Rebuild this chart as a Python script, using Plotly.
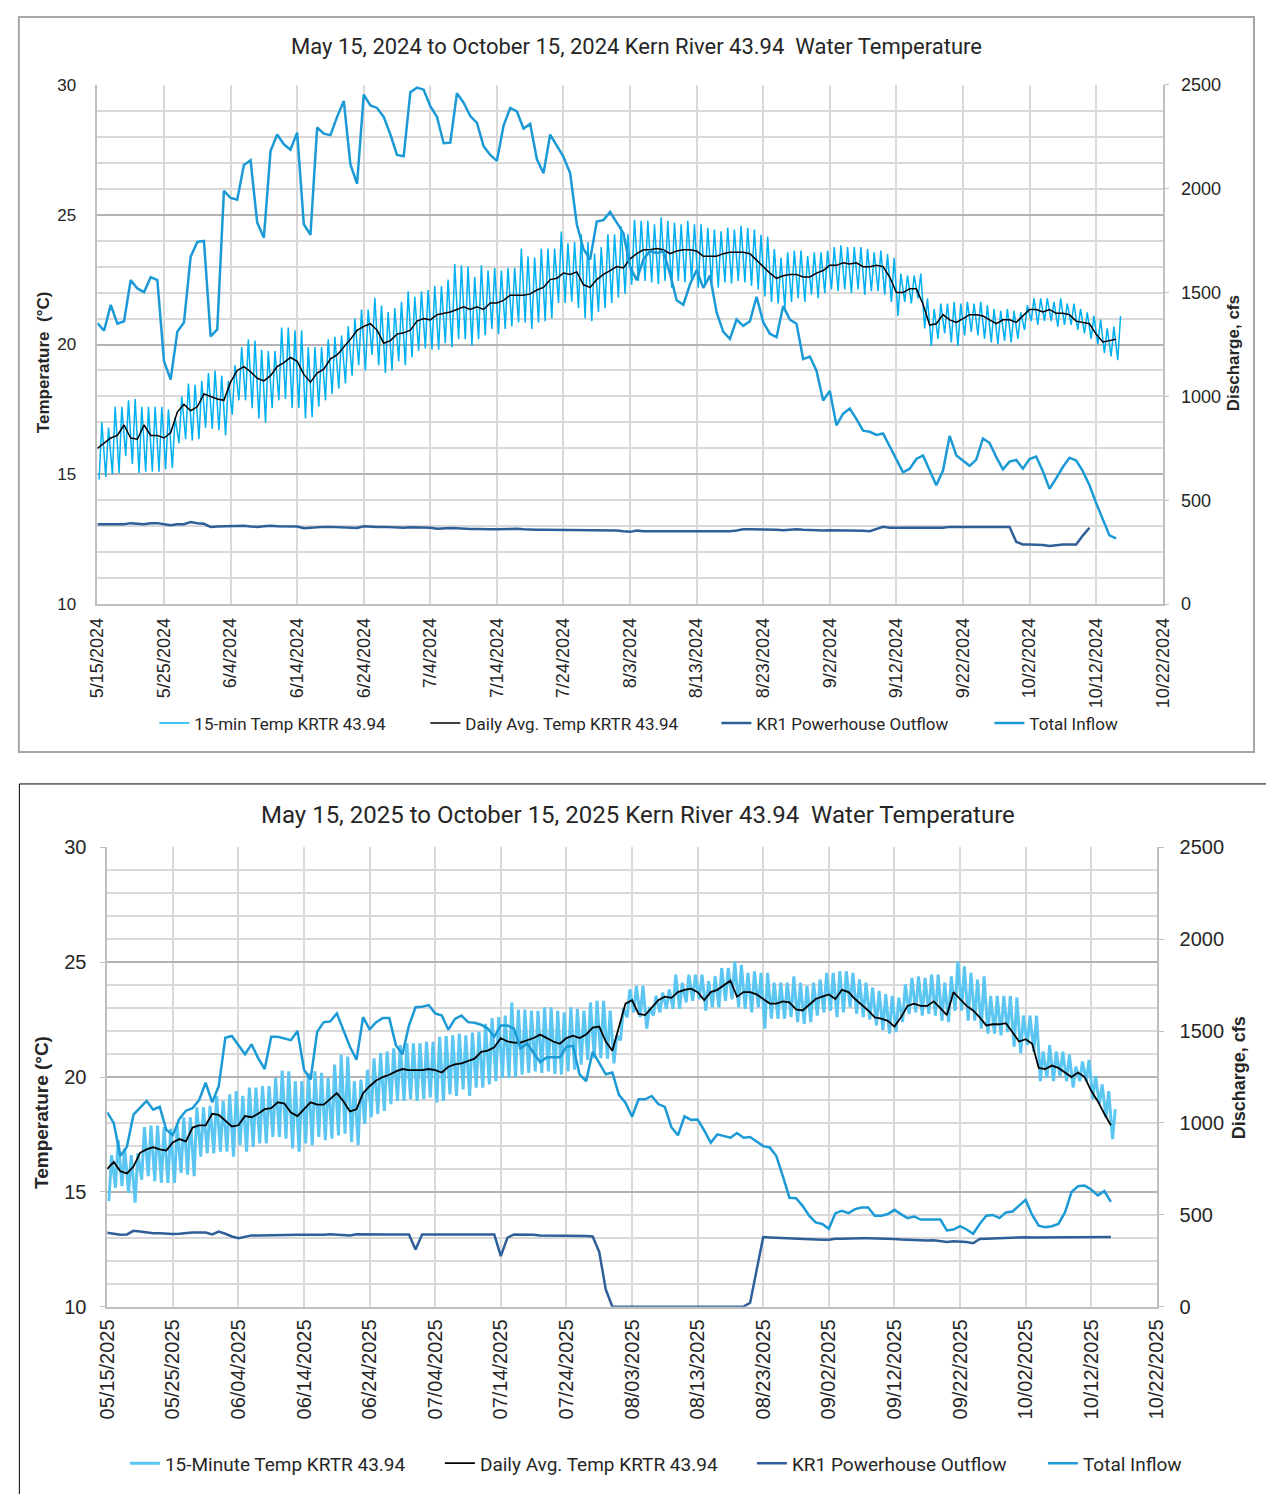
import pandas as pd
import plotly.graph_objects as go

W, H = 1266, 1494

# ---------------- 2024 data (daily, starting 2024-05-15) ----------------
start_2024 = "2024-05-15"
avg_2024 = [16.0, 16.2, 16.4, 16.5, 16.9, 16.4, 16.35, 16.9, 16.5, 16.5,
            16.4, 16.6, 17.4, 17.7, 17.45, 17.6, 18.1, 18.0, 17.9, 17.85,
            18.55, 19.0, 19.15, 18.95, 18.7, 18.6, 18.8, 19.15, 19.3, 19.5,
            19.35, 18.85, 18.55, 18.9, 19.05, 19.45, 19.6, 19.9, 20.2, 20.55,
            20.7, 20.8, 20.55, 20.05, 20.15, 20.4, 20.45, 20.55, 20.9, 21.0,
            20.95, 21.15, 21.2, 21.25, 21.35, 21.45, 21.35, 21.45, 21.35, 21.6,
            21.6, 21.7, 21.9, 21.9, 21.9, 21.95, 22.1, 22.2, 22.5, 22.55,
            22.75, 22.7, 22.8, 22.3, 22.2, 22.5, 22.7, 22.85, 23.0, 22.95,
            23.3, 23.5, 23.65, 23.65, 23.7, 23.65, 23.5, 23.6, 23.65, 23.65,
            23.6, 23.4, 23.4, 23.4, 23.5, 23.55, 23.55, 23.55, 23.5, 23.25,
            23.0, 22.75, 22.55, 22.65, 22.7, 22.7, 22.6, 22.6, 22.75, 22.85,
            23.05, 23.05, 23.15, 23.1, 23.15, 23.0, 23.0, 23.05, 23.0, 22.6,
            22.0, 22.0, 22.15, 22.15, 21.55, 20.75, 20.8, 21.15, 20.95, 20.85,
            21.0, 21.15, 21.15, 21.1, 20.95, 20.8, 20.95, 20.95, 20.85, 21.1,
            21.35, 21.35, 21.25, 21.35, 21.2, 21.2, 21.15, 20.9, 20.85, 20.8,
            20.4, 20.1, 20.15, 20.2]
max_2024 = [17.0, 16.8, 17.6, 17.6, 17.85, 17.9, 17.6, 17.6, 17.6, 17.6,
            17.5, 17.2, 18.0, 18.5, 18.45, 18.6, 18.9, 19.0, 18.8, 18.6,
            19.2, 19.9, 20.2, 20.15, 19.8, 19.75, 19.75, 20.65, 20.65, 20.55,
            20.55, 19.9, 19.9, 19.9, 20.2, 20.3, 20.35, 20.7, 21.0, 21.35,
            21.35, 21.8, 21.5, 21.25, 21.4, 21.65, 22.05, 21.85, 22.05, 22.1,
            22.25, 22.25, 22.5, 23.1, 23.05, 23.0, 22.6, 23.05, 22.85, 22.95,
            22.85, 22.95, 22.95, 23.7, 23.4, 23.35, 23.7, 23.7, 23.7, 24.35,
            23.9, 23.95, 24.25, 23.95, 23.5, 23.75, 24.25, 24.25, 24.55, 24.25,
            24.8, 24.77, 24.77, 24.63, 24.9, 24.77, 24.7, 24.63, 24.77, 24.63,
            24.63, 24.5, 24.43, 24.36, 24.5, 24.43, 24.57, 24.5, 24.43, 24.23,
            24.16, 23.68, 23.34, 23.55, 23.62, 23.62, 23.41, 23.55, 23.55, 23.62,
            23.75, 23.82, 23.75, 23.75, 23.75, 23.68, 23.55, 23.62, 23.48, 23.34,
            22.73, 22.66, 22.66, 22.73, 21.78, 21.37, 21.58, 21.58, 21.64, 21.58,
            21.64, 21.58, 21.64, 21.51, 21.37, 21.3, 21.37, 21.3, 21.24, 21.51,
            21.78, 21.78, 21.78, 21.64, 21.78, 21.58, 21.58, 21.37, 21.24, 21.1,
            20.96, 20.62, 20.69, 21.1]
min_2024 = [14.8, 14.9, 15.0, 15.05, 15.7, 15.4, 15.05, 15.1, 15.1, 15.1,
            15.2, 15.25, 16.2, 16.35, 16.3, 16.35, 16.8, 16.75, 16.7, 16.5,
            17.3, 17.85, 17.85, 17.55, 17.15, 17.0, 17.55, 17.85, 17.9, 17.55,
            17.55, 17.15, 17.2, 17.6, 17.85, 18.1, 18.3, 18.5, 18.8, 19.2,
            19.0, 19.6, 19.2, 18.9, 19.0, 19.35, 19.2, 19.5, 19.75, 19.85,
            19.8, 19.8, 20.05, 19.9, 20.2, 20.2, 19.95, 20.2, 20.35, 20.6,
            20.4, 20.6, 20.7, 20.85, 20.85, 20.6, 20.85, 20.9, 21.0, 21.6,
            21.6, 21.65, 21.4, 21.0, 20.9, 21.25, 21.4, 21.6, 21.8, 21.95,
            22.3, 22.45, 22.45, 22.39, 22.32, 22.45, 22.19, 22.45, 22.39, 22.45,
            22.19, 22.26, 22.32, 22.19, 22.39, 22.35, 22.45, 22.39, 22.26, 22.12,
            21.85, 21.64, 21.58, 21.4, 21.64, 21.78, 21.64, 21.92, 21.78, 21.98,
            22.12, 22.05, 22.12, 21.98, 22.12, 21.92, 22.05, 22.05, 21.92, 21.64,
            21.1, 21.64, 21.58, 21.78, 20.62, 19.95, 20.22, 20.43, 20.08, 19.95,
            20.35, 20.49, 20.35, 20.22, 20.08, 20.01, 20.15, 20.08, 20.22, 20.56,
            20.9, 20.76, 20.9, 20.9, 20.69, 20.76, 20.76, 20.56, 20.43, 20.22,
            20.01, 19.67, 19.54, 19.4]
inflow_2024 = [1353, 1316, 1441, 1350, 1362, 1560, 1520, 1502, 1574, 1560,
               1170, 1081, 1311, 1356, 1672, 1744, 1749, 1289, 1323, 1990,
               1956, 1947, 2114, 2137, 1837, 1764, 2182, 2261, 2214, 2188,
               2270, 1829, 1778, 2295, 2265, 2258, 2346, 2423, 2117, 2024,
               2453, 2401, 2389, 2346, 2261, 2163, 2156, 2465, 2487, 2477,
               2397, 2346, 2219, 2222, 2460, 2414, 2350, 2317, 2205, 2163,
               2134, 2304, 2389, 2372, 2290, 2312, 2143, 2075, 2261, 2210,
               2154, 2075, 1829, 1710, 1659, 1842, 1849, 1888, 1840, 1786,
               1625, 1560, 1660, 1700, 1690, 1700, 1591, 1463, 1441, 1540,
               1608, 1523, 1582, 1404, 1311, 1277, 1370, 1340, 1362, 1480,
               1357, 1302, 1285, 1435, 1370, 1350, 1180, 1192, 1124, 980,
               1027, 861, 917, 942, 891, 835, 830, 815, 822, 762,
               699, 635, 652, 699, 716, 640, 572, 643, 810, 716,
               691, 666, 696, 798, 776, 708, 649, 686, 694, 652,
               699, 711, 640, 555, 606, 660, 705, 691, 640, 572,
               487, 406, 331, 317]
outflow_2024 = [385, 385, 382, 382, 385, 390, 387, 385, 389, 390,
                385, 380, 385, 385, 395, 389, 387, 372, 374, 375,
                375, 375, 377, 374, 372, 375, 377, 375, 375, 375,
                374, 365, 368, 372, 372, 372, 370, 368, 368, 367,
                375, 372, 372, 372, 370, 367, 368, 370, 370, 370,
                368, 363, 365, 367, 365, 362, 362, 362, 360, 360,
                360, 362, 362, 363, 360, 358, 358, 358, 358, 358,
                358, 358, 358, 355, 355, 355, 355, 355, 355, 351,
                348, 355, 351, 351, 351, 351, 351, 348, 348, 348,
                350, 351, 350, 348, 350, 351, 355, 360, 360, 360,
                360, 360, 358, 356, 358, 360, 358, 356, 355, 355,
                356, 356, 356, 356, 356, 353, 351, 360, 372, 368,
                368, 368, 368, 368, 368, 368, 368, 368, 372, 372,
                372, 373, 374, 375, 373, 372, 372, 372, 300, 287,
                287, 287, 285, 280, 284, 287, 287, 287, 330, 368]

# ---------------- 2025 data (daily, starting 2025-05-15) ----------------
start_2025 = "2025-05-15"
avg_2025 = [16.0, 16.3, 15.9, 15.8, 16.1, 16.7, 16.85, 16.95, 16.85, 16.8,
            17.15, 17.3, 17.2, 17.8, 17.9, 17.9, 18.4, 18.35, 18.1, 17.85,
            17.9, 18.3, 18.25, 18.4, 18.6, 18.65, 18.9, 18.85, 18.45, 18.3,
            18.6, 18.9, 18.8, 18.8, 19.05, 19.3, 18.95, 18.5, 18.6, 19.3,
            19.6, 19.85, 20.0, 20.1, 20.25, 20.35, 20.3, 20.3, 20.3, 20.35,
            20.3, 20.2, 20.45, 20.55, 20.6, 20.7, 20.8, 21.1, 21.15, 21.3,
            21.7, 21.55, 21.5, 21.5, 21.6, 21.7, 21.85, 21.7, 21.55, 21.45,
            21.7, 21.8, 21.7, 21.85, 22.15, 22.2, 21.55, 21.15, 22.2, 23.2,
            23.35, 22.75, 22.7, 23.05, 23.35, 23.5, 23.45, 23.7, 23.8, 23.85,
            23.7, 23.35, 23.7, 23.8, 24.0, 24.2, 23.5, 23.7, 23.7, 23.6,
            23.4, 23.2, 23.2, 23.3, 23.25, 22.95, 22.9, 23.15, 23.4, 23.5,
            23.6, 23.4, 23.8, 23.7, 23.4, 23.15, 22.9, 22.6, 22.55, 22.45,
            22.2, 22.6, 23.1, 23.2, 23.1, 23.1, 23.3, 23.0, 22.7, 23.7,
            23.4, 23.1, 22.9, 22.6, 22.25, 22.3, 22.3, 22.35, 21.95, 21.55,
            21.65, 21.45, 20.4, 20.35, 20.5, 20.4, 20.2, 20.0, 20.2, 20.0,
            19.4, 18.95, 18.4, 17.9]
max_2025 = [16.6, 17.25, 16.9, 16.6, 16.68, 17.82, 17.89, 17.89, 17.82, 17.75,
            17.89, 18.25, 18.25, 18.68, 18.68, 18.75, 19.18, 18.96, 19.25, 19.39,
            19.18, 19.54, 19.54, 19.61, 19.61, 19.96, 20.28, 20.25, 19.82, 19.82,
            20.18, 20.25, 20.18, 19.96, 20.54, 20.97, 20.89, 19.82, 19.89, 20.32,
            20.82, 21.04, 21.11, 21.25, 21.39, 21.47, 21.47, 21.47, 21.54, 21.54,
            21.75, 21.79, 21.82, 21.89, 21.82, 21.94, 21.97, 22.32, 22.57, 22.61,
            22.68, 23.25, 22.94, 22.94, 22.89, 22.89, 23.04, 23.04, 22.89, 22.82,
            23.04, 22.97, 22.89, 23.25, 23.32, 23.32, 22.9, 21.8, 23.0, 23.82,
            23.97, 23.97, 23.04, 23.54, 23.68, 23.82, 24.46, 24.11, 24.46, 24.46,
            24.46, 24.18, 24.39, 24.75, 24.75, 25.04, 24.89, 24.54, 24.61, 24.54,
            24.54, 24.11, 24.11, 24.11, 24.39, 24.11, 23.97, 24.11, 24.25, 24.54,
            24.54, 24.61, 24.61, 24.54, 24.25, 24.11, 23.9, 23.75, 23.61, 23.54,
            23.46, 24.04, 24.32, 24.39, 24.32, 24.46, 24.46, 24.11, 24.39, 25.04,
            24.82, 24.54, 24.25, 24.39, 23.54, 23.54, 23.54, 23.54, 23.46, 22.68,
            22.68, 22.68, 21.11, 21.39, 21.11, 21.11, 20.97, 20.46, 20.68, 20.75,
            20.04, 19.68, 19.39, 18.6]
min_2025 = [14.6, 15.18, 15.25, 14.96, 14.53, 15.53, 15.68, 15.46, 15.39, 15.39,
            15.39, 15.82, 15.75, 15.68, 16.53, 16.68, 16.68, 16.75, 16.75, 16.53,
            17.03, 16.75, 16.96, 17.11, 17.11, 17.39, 17.39, 17.32, 16.89, 16.75,
            17.11, 17.03, 17.39, 17.25, 17.32, 17.46, 17.53, 17.18, 17.03, 17.96,
            18.25, 18.39, 18.53, 18.82, 18.96, 18.96, 19.04, 18.96, 19.04, 19.11,
            18.89, 18.96, 19.25, 19.18, 19.46, 19.18, 19.54, 19.54, 19.68, 19.82,
            19.96, 19.96, 19.99, 20.11, 20.18, 20.25, 20.18, 20.25, 20.14, 20.11,
            20.25, 20.32, 20.54, 20.75, 20.82, 20.82, 20.8, 20.6, 21.6, 22.6,
            22.82, 22.61, 22.11, 22.68, 22.82, 22.97, 22.97, 22.97, 23.25, 23.32,
            23.39, 22.89, 23.04, 23.04, 23.32, 23.39, 23.04, 22.97, 22.82, 23.04,
            22.11, 22.54, 22.54, 22.54, 22.61, 22.39, 22.32, 22.39, 22.68, 22.82,
            22.89, 22.61, 22.82, 23.04, 22.75, 22.61, 22.5, 22.25, 22.04, 21.89,
            21.96, 22.4, 22.75, 22.82, 22.68, 22.75, 22.68, 22.46, 22.39, 22.89,
            22.89, 22.46, 22.46, 22.11, 21.89, 21.89, 21.82, 21.96, 21.32, 21.04,
            21.39, 21.11, 19.82, 19.96, 19.82, 20.04, 19.82, 19.54, 19.82, 19.82,
            19.04, 18.82, 18.25, 17.3]
inflow_2025 = [1058, 999, 820, 870, 1045, 1085, 1120, 1072, 1088, 963,
               933, 1022, 1067, 1081, 1124, 1219, 1112, 1201, 1464, 1474,
               1424, 1374, 1428, 1353, 1294, 1469, 1469, 1460, 1451, 1501,
               1290, 1237, 1496, 1549, 1553, 1597, 1505, 1415, 1344, 1576,
               1510, 1549, 1571, 1571, 1424, 1374, 1531, 1630, 1633, 1642,
               1597, 1585, 1508, 1567, 1585, 1549, 1546, 1535, 1514, 1469,
               1531, 1531, 1514, 1406, 1433, 1380, 1331, 1358, 1358, 1358,
               1415, 1420, 1265, 1228, 1388, 1325, 1265, 1275, 1153, 1110,
               1034, 1129, 1129, 1147, 1103, 1088, 977, 933, 1036, 1017,
               1019, 960, 892, 938, 927, 920, 945, 920, 924, 897,
               874, 867, 820, 709, 593, 590, 549, 495, 459, 450,
               424, 509, 522, 509, 531, 540, 540, 495, 495, 504,
               527, 504, 482, 491, 474, 474, 474, 474, 415, 420,
               438, 420, 397, 450, 495, 499, 482, 513, 518, 549,
               581, 499, 441, 432, 438, 450, 513, 624, 656, 659,
               638, 606, 629, 570]
outflow_2025 = [402, 397, 391, 393, 413, 409, 404, 400, 400, 397,
                395, 397, 402, 404, 404, 404, 393, 409, 397, 382,
                373, 382, 388, 388, 389, 391, 391, 391, 391, 391,
                391, 391, 388, 391, 394, 391, 388, 388, 394, 393,
                393, 393, 393, 393, 393, 393, 393, 311, 393, 393,
                393, 393, 393, 393, 393, 393, 393, 393, 393, 393,
                275, 375, 393, 393, 393, 391, 388, 388, 388, 388,
                388, 385, 385, 385, 382, 298, 93, 0, 0, 0,
                0, 0, 0, 0, 0, 0, 0, 0, 0, 0,
                0, 0, 0, 0, 0, 0, 0, 0, 21, 200,
                379, 377, 375, 373, 372, 370, 368, 366, 364, 364,
                364, 370, 370, 372, 372, 373, 372, 372, 370, 370,
                368, 366, 364, 362, 360, 360, 362, 358, 352, 356,
                356, 352, 345, 368, 370, 372, 372, 374, 375, 376,
                378, 376, 376, 376, 378, 378, 379, 379, 379, 379,
                379, 379, 379, 379]

legend_2024 = ["15-min Temp KRTR 43.94", "Daily Avg. Temp KRTR 43.94",
               "KR1 Powerhouse Outflow", "Total Inflow"]
legend_2025 = ["15-Minute Temp KRTR 43.94", "Daily Avg. Temp KRTR 43.94",
               "KR1 Powerhouse Outflow", "Total Inflow"]
title_2024 = "May 15, 2024 to October 15, 2024 Kern River 43.94  Water Temperature"
title_2025 = "May 15, 2025 to October 15, 2025 Kern River 43.94  Water Temperature"


def days(start, n):
    return pd.date_range(start, periods=n, freq="D")


def diurnal(start, lo, hi):
    xs, ys = [], []
    for d, a, b in zip(days(start, len(lo)), lo, hi):
        xs += [d + pd.Timedelta(hours=6), d + pd.Timedelta(hours=16)]
        ys += [a, b]
    return xs, ys


def px(x):
    return x / W


def py(y):
    return 1 - y / H


C15_TOP = "#00B0F0"
C15_BOT = "#5CC6F2"
CAVG = "#000000"
COUT = "#2F5F98"
CIN = "#1C9AD6"
MAJ = "#B3B3B3"
MIN = "#D9D9D9"
AX = "#BFBFBF"
TXT = "#262626"

fig = go.Figure()

# ---- top chart ----
x15, y15 = diurnal(start_2024, min_2024, max_2024)
fig.add_trace(go.Scatter(x=x15, y=y15, mode="lines", name=legend_2024[0],
                         line=dict(color=C15_TOP, width=1.5),
                         xaxis="x", yaxis="y", legend="legend", legendwidth=226))
fig.add_trace(go.Scatter(x=days(start_2024, len(avg_2024)), y=avg_2024, mode="lines",
                         name=legend_2024[1], line=dict(color=CAVG, width=1.5),
                         xaxis="x", yaxis="y", legend="legend", legendwidth=246))
fig.add_trace(go.Scatter(x=days(start_2024, len(outflow_2024)), y=outflow_2024, mode="lines",
                         name=legend_2024[2], line=dict(color=COUT, width=2.5),
                         xaxis="x", yaxis="y2", legend="legend", legendwidth=228))
fig.add_trace(go.Scatter(x=days(start_2024, len(inflow_2024)), y=inflow_2024, mode="lines",
                         name=legend_2024[3], line=dict(color=CIN, width=2.5),
                         xaxis="x", yaxis="y2", legend="legend", legendwidth=100))

# ---- bottom chart ----
x15b, y15b = diurnal(start_2025, min_2025, max_2025)
fig.add_trace(go.Scatter(x=x15b, y=y15b, mode="lines", name=legend_2025[0],
                         line=dict(color=C15_BOT, width=3),
                         xaxis="x2", yaxis="y3", legend="legend2", legendwidth=270))
fig.add_trace(go.Scatter(x=days(start_2025, len(avg_2025)), y=avg_2025, mode="lines",
                         name=legend_2025[1], line=dict(color=CAVG, width=1.8),
                         xaxis="x2", yaxis="y3", legend="legend2", legendwidth=267))
fig.add_trace(go.Scatter(x=days(start_2025, len(outflow_2025)), y=outflow_2025, mode="lines",
                         name=legend_2025[2], line=dict(color=COUT, width=2.5),
                         xaxis="x2", yaxis="y4", legend="legend2", legendwidth=246))
fig.add_trace(go.Scatter(x=days(start_2025, len(inflow_2025)), y=inflow_2025, mode="lines",
                         name=legend_2025[3], line=dict(color=CIN, width=2.5),
                         xaxis="x2", yaxis="y4", legend="legend2", legendwidth=110))

TEN_DAYS = 10 * 86400000
FT = "Liberation Sans"


def ann(text, x, y, size, angle=0, family="Roboto"):
    return dict(text=text, xref="paper", yref="paper", x=px(x), y=py(y),
                xanchor="center", yanchor="middle", textangle=angle, showarrow=False,
                font=dict(family=family, size=size, color=TXT))


fig.update_layout(
    width=W, height=H, margin=dict(l=0, r=0, t=0, b=0),
    paper_bgcolor="white", plot_bgcolor="white",
    font=dict(family="Roboto", color=TXT),
    xaxis=dict(domain=[px(87), px(1172)], anchor="y", type="date",
               range=["2024-05-15", "2024-10-22"], tick0="2024-05-15", dtick=TEN_DAYS,
               tickformat="%-m/%-d/%Y", tickangle=-90,
               tickfont=dict(family=FT, size=18, color=TXT),
               showgrid=True, gridcolor=MIN, gridwidth=1.5,
               showline=True, linecolor=AX, linewidth=1.5, ticks="",
               ticklabelstandoff=5, zeroline=False),
    yaxis=dict(domain=[py(602), py(75)], anchor="x", range=[10, 30], tick0=10, dtick=5,
               showgrid=True, gridcolor=MAJ, gridwidth=2,
               minor=dict(tick0=10, dtick=1, showgrid=True, gridcolor=MIN, gridwidth=1.5),
               showline=True, linecolor=AX, linewidth=1.5, ticks="",
               tickfont=dict(family=FT, size=17, color=TXT),
               ticklabelstandoff=16, zeroline=False),
    yaxis2=dict(overlaying="y", anchor="x", side="right", range=[0, 2500], tick0=0, dtick=500,
                showgrid=False, showline=True, linecolor=AX, linewidth=1.5,
                ticks="outside", ticklen=5, tickcolor=AX,
                tickfont=dict(family=FT, size=18, color=TXT),
                ticklabelstandoff=8, zeroline=False),
    xaxis2=dict(domain=[px(97), px(1166)], anchor="y3", type="date",
                range=["2025-05-15", "2025-10-22"], tick0="2025-05-15", dtick=TEN_DAYS,
                tickformat="%m/%d/%Y", tickangle=-90,
                tickfont=dict(family=FT, size=20, color=TXT),
                showgrid=True, gridcolor=MIN, gridwidth=1.5,
                showline=True, linecolor=AX, linewidth=1.5, ticks="",
                ticklabelstandoff=3, zeroline=False),
    yaxis3=dict(domain=[py(1315), py(849)], anchor="x2", range=[10, 30], tick0=10, dtick=5,
                showgrid=True, gridcolor=MAJ, gridwidth=2,
                minor=dict(tick0=10, dtick=1, showgrid=True, gridcolor=MIN, gridwidth=1.5),
                showline=True, linecolor=AX, linewidth=1.5,
                ticks="outside", ticklen=5, tickcolor=AX,
                tickfont=dict(family=FT, size=20, color=TXT),
                ticklabelstandoff=10, zeroline=False),
    yaxis4=dict(overlaying="y3", anchor="x2", side="right", range=[0, 2500], tick0=0, dtick=500,
                showgrid=False, showline=True, linecolor=AX, linewidth=1.5,
                ticks="outside", ticklen=5, tickcolor=AX,
                tickfont=dict(family=FT, size=20, color=TXT),
                ticklabelstandoff=12, zeroline=False),
    legend=dict(orientation="h", x=px(145), xanchor="left", y=py(723), yanchor="middle",
                font=dict(family="Roboto", size=17, color=TXT), bgcolor="rgba(0,0,0,0)",
                borderwidth=0),
    legend2=dict(orientation="h", x=px(115), xanchor="left", y=py(1474), yanchor="middle",
                 font=dict(family="Roboto", size=19, color=TXT), bgcolor="rgba(0,0,0,0)",
                 borderwidth=0),
    shapes=[
        dict(type="rect", xref="paper", yref="paper", x0=px(7), x1=px(1265), y0=py(752), y1=py(6),
             line=dict(color="#A6A6A6", width=2), fillcolor="rgba(0,0,0,0)", layer="below"),
        dict(type="rect", xref="paper", yref="paper", x0=px(7.5), x1=px(1280), y0=py(1520), y1=py(784.5),
             line=dict(color="#000000", width=1), fillcolor="rgba(0,0,0,0)", layer="below"),
    ],
    annotations=[
        ann(title_2024, 636, 36, 22),
        ann(title_2025, 638, 816, 24),
        ann("<b>Temperature  (°C)</b>", 32, 356, 17, -90, FT),
        ann("<b>Discharge, cfs</b>", 1245, 347, 17, -90, FT),
        ann("<b>Temperature (°C)</b>", 30, 1118, 19, -90, FT),
        ann("<b>Discharge, cfs</b>", 1250, 1083, 18, -90, FT),
    ],
)

fig.write_html(
    "out.html",
    config={"displayModeBar": False},
    post_script=("document.documentElement.style.margin='0';"
                 "document.body.style.margin='0';"
                 "document.body.style.overflow='hidden';"),
)
